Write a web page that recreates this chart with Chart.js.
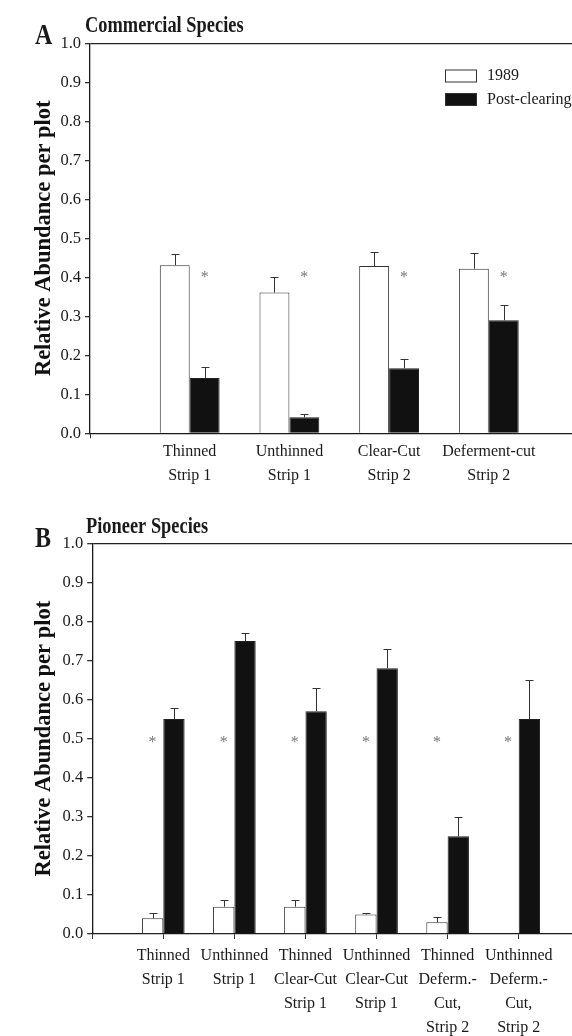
<!DOCTYPE html>
<html>
<head>
<meta charset="utf-8">
<script src="https://cdn.jsdelivr.net/npm/chart.js@4.4.1/dist/chart.umd.min.js"></script>
<style>
  html, body { margin: 0; padding: 0; background: #fff; overflow: hidden; width: 572px; height: 1036px; }
  canvas.panel { position: absolute; left: 0; }
</style>
</head>
<body>
<canvas id="chartA" class="panel" style="top:0" width="600" height="500"></canvas>
<canvas id="chartB" class="panel" style="top:500px" width="600" height="536"></canvas>
<script>
// ==================== data ====================

const seriesLabels = ['1989', 'Post-clearing'];
const yTickValues = [0.0, 0.1, 0.2, 0.3, 0.4, 0.5, 0.6, 0.7, 0.8, 0.9, 1.0];

// A: commercial species
const commercialCategories = [
  ['Thinned', 'Strip 1'],
  ['Unthinned', 'Strip 1'],
  ['Clear-Cut', 'Strip 2'],
  ['Deferment-cut', 'Strip 2']
];
const commercial1989 = [0.431, 0.361, 0.429, 0.422];
const commercial1989Err = [0.029, 0.041, 0.036, 0.041];
const commercialPost = [0.142, 0.041, 0.167, 0.29];
const commercialPostErr = [0.029, 0.009, 0.023, 0.04];
const commercialSignif = [true, true, true, true];

// B: pioneer species
const pioneerCategories = [
  ['Thinned', 'Strip 1'],
  ['Unthinned', 'Strip 1'],
  ['Thinned', 'Clear-Cut', 'Strip 1'],
  ['Unthinned', 'Clear-Cut', 'Strip 1'],
  ['Thinned', 'Deferm.-', 'Cut,', 'Strip 2'],
  ['Unthinned', 'Deferm.-', 'Cut,', 'Strip 2']
];
const pioneer1989 = [0.04, 0.07, 0.07, 0.05, 0.03, 0];
const pioneer1989Err = [0.015, 0.016, 0.018, 0.005, 0.013, null];
const pioneerPost = [0.55, 0.75, 0.57, 0.68, 0.25, 0.55];
const pioneerPostErr = [0.029, 0.02, 0.06, 0.05, 0.05, 0.10];
const pioneerSignif = [true, true, true, true, true, true];

// ==================== helpers ====================

const SERIF = '"Liberation Serif", "Times New Roman", serif';
const INK = '#1a1a1a';

// empty slot on each side of the categories, like the original axis
const pad = arr => [null, ...arr, null];

function boldCondensed(ctx, text, x, baseline, size, sx) {
  ctx.save();
  ctx.translate(x, baseline);
  ctx.scale(sx, 1);
  ctx.font = `bold ${size}px ${SERIF}`;
  ctx.fillStyle = INK;
  ctx.textAlign = 'left';
  ctx.textBaseline = 'alphabetic';
  ctx.fillText(text, 0, 0);
  ctx.restore();
}

/**
 * Error bars, significance stars, panel letter/title and (optionally) legend
 */
function decorations(p) {
  return {
    id: 'decorations',
    afterDatasetsDraw(chart) {
      const ctx = chart.ctx;
      const y = chart.scales.y;
      ctx.save();

      // error bars (upward only)
      p.errors.forEach((errs, d) => {
        const meta = chart.getDatasetMeta(d);
        const vals = chart.data.datasets[d].data;
        meta.data.forEach((bar, i) => {
          const e = errs[i], v = vals[i];
          if (e == null || v == null) return;
          const x = Math.round(bar.x) + 0.5;
          const yTop = Math.round(y.getPixelForValue(v + e)) + 0.5;
          ctx.strokeStyle = '#333';
          ctx.lineWidth = 1;
          ctx.beginPath();
          ctx.moveTo(x, bar.y);
          ctx.lineTo(x, yTop);
          ctx.moveTo(x - 4, yTop);
          ctx.lineTo(x + 4, yTop);
          ctx.stroke();
        });
      });

      // significance stars
      const starMeta = chart.getDatasetMeta(p.starDataset);
      ctx.font = `16px ${SERIF}`;
      ctx.fillStyle = '#777';
      ctx.textAlign = 'center';
      ctx.textBaseline = 'alphabetic';
      p.signif.forEach((s, i) => {
        if (!s) return;
        const bar = starMeta.data[i];
        ctx.fillText('*', bar.x, y.getPixelForValue(p.starLevel) + 7.5);
      });

      ctx.restore();
    },
    afterDraw(chart) {
      const ctx = chart.ctx;
      boldCondensed(ctx, p.letter, 35, p.letterBaseline, 30, 0.8);
      boldCondensed(ctx, p.title, p.titleX, p.titleBaseline, 23, 0.8);

      if (p.legend) {
        ctx.save();
        const items = [
          { fill: '#fff', y: 69.5 },
          { fill: '#111', y: 93 }
        ];
        items.forEach((it, k) => {
          ctx.fillStyle = it.fill;
          ctx.fillRect(445, it.y, 32, 13);
          ctx.strokeStyle = '#333';
          ctx.lineWidth = 1;
          ctx.strokeRect(445.5, it.y + 0.5, 31, 12);
          ctx.fillStyle = INK;
          ctx.font = `16px ${SERIF}`;
          ctx.textAlign = 'left';
          ctx.textBaseline = 'middle';
          ctx.fillText(seriesLabels[k], 487, it.y + 6.5);
        });
        ctx.restore();
      }
    }
  };
}

function makePanel(canvasId, p) {
  const canvas = document.getElementById(canvasId);
  const H = canvas.height, W = canvas.width;

  return new Chart(canvas, {
    type: 'bar',
    data: {
      labels: ['', ...p.categories, ''],
      datasets: [
        {
          label: seriesLabels[0],
          data: pad(p.values[0]),
          backgroundColor: '#ffffff',
          borderColor: '#333',
          borderWidth: 1
        },
        {
          label: seriesLabels[1],
          data: pad(p.values[1]),
          backgroundColor: '#111111',
          borderColor: '#222',
          borderWidth: 1
        }
      ]
    },
    options: {
      responsive: false,
      animation: false,
      events: [],
      layout: { padding: { top: p.top, right: W - p.right, left: 0, bottom: 0 } },
      datasets: { bar: { categoryPercentage: 0.6, barPercentage: 1.0 } },
      plugins: { legend: { display: false }, tooltip: { enabled: false } },
      scales: {
        x: {
          offset: false,
          afterFit: s => { s.height = H - p.bottom; },
          border: { color: INK, width: 1.3 },
          grid: {
            offset: false,
            drawOnChartArea: false,
            drawTicks: true,
            tickLength: 5,
            tickColor: ctx => (p.catTicks || ctx.index === 0) ? '#333' : 'rgba(0,0,0,0)'
          },
          ticks: {
            autoSkip: false,
            maxRotation: 0,
            minRotation: 0,
            padding: p.labelPadding,
            color: INK,
            font: { family: SERIF, size: 16, lineHeight: 1.5 }
          }
        },
        y: {
          min: 0,
          max: 1,
          afterFit: s => { s.width = p.left; },
          afterBuildTicks: s => { s.ticks = yTickValues.map(v => ({ value: v })); },
          border: { color: INK, width: 1.3 },
          grid: {
            drawTicks: true,
            tickLength: 5,
            tickColor: '#333',
            color: ctx => (ctx.tick && Math.abs(ctx.tick.value - 1) < 1e-6) ? '#222' : 'rgba(0,0,0,0)',
            lineWidth: 1.3
          },
          ticks: {
            padding: 4,
            color: INK,
            font: { family: SERIF, size: 16.5 },
            callback: v => v.toFixed(1)
          },
          title: {
            display: true,
            text: 'Relative Abundance per plot',
            color: '#111',
            font: { family: SERIF, size: 22.5, weight: 'bold' },
            padding: { top: 30.5, bottom: 0 }
          }
        }
      }
    },
    plugins: [decorations({
      errors: [pad(p.errors[0]), pad(p.errors[1])],
      signif: pad(p.signif),
      starDataset: p.starDataset,
      starLevel: p.starLevel,
      letter: p.letter,
      letterBaseline: p.letterBaseline,
      title: p.title,
      titleX: p.titleX,
      titleBaseline: p.titleBaseline,
      legend: p.legend
    })]
  });
}

// ==================== panels ====================

makePanel('chartA', {
  categories: commercialCategories,
  values: [commercial1989, commercialPost],
  errors: [commercial1989Err, commercialPostErr],
  signif: commercialSignif,
  starDataset: 1,
  starLevel: 0.406,
  letter: 'A', letterBaseline: 43.5,
  title: 'Commercial Species', titleX: 85, titleBaseline: 32.3,
  legend: true,
  catTicks: false,
  labelPadding: 1,
  top: 43.3, bottom: 433.3, left: 90, right: 588.5
});

makePanel('chartB', {
  categories: pioneerCategories,
  values: [pioneer1989, pioneerPost],
  errors: [pioneer1989Err, pioneerPostErr],
  signif: pioneerSignif,
  starDataset: 0,
  starLevel: 0.497,
  letter: 'B', letterBaseline: 46.7,
  title: 'Pioneer Species', titleX: 86, titleBaseline: 33.3,
  legend: false,
  catTicks: true,
  labelPadding: 5,
  top: 43.3, bottom: 434, left: 92.2, right: 589.8
});
</script>
</body>
</html>
